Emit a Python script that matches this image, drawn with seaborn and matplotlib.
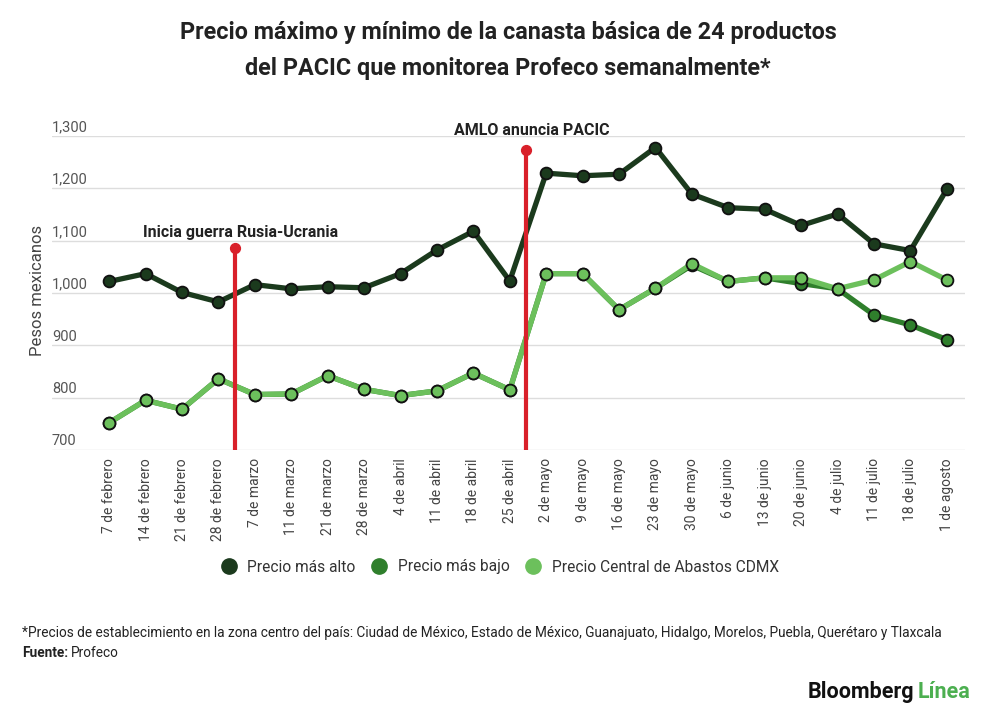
import numpy as np
import pandas as pd
import matplotlib
matplotlib.use("Agg")
import matplotlib.pyplot as plt
import seaborn as sns

dates = ["7 de febrero", "14 de febrero", "21 de febrero", "28 de febrero",
         "7 de marzo", "11 de marzo", "21 de marzo", "28 de marzo",
         "4 de abril", "11 de abril", "18 de abril", "25 de abril",
         "2 de mayo", "9 de mayo", "16 de mayo", "23 de mayo", "30 de mayo",
         "6 de junio", "13 de junio", "20 de junio", "4 de julio",
         "11 de julio", "18 de julio", "1 de agosto"]

precio_alto = [1022, 1037, 1001, 983, 1016, 1008, 1012, 1010,
               1037, 1082, 1118, 1023, 1229, 1224, 1227, 1278, 1189,
               1163, 1160, 1129, 1151, 1094, 1081, 1198]
precio_bajo = [752, 795, 778, 836, 806, 807, 842, 816,
               804, 813, 847, 815, 1037, 1037, 968, 1009, 1053,
               1022, 1029, 1018, 1008, 958, 939, 911]
precio_central = [752, 795, 778, 836, 806, 807, 842, 816,
                  804, 813, 847, 815, 1037, 1037, 968, 1009, 1056,
                  1022, 1029, 1029, 1008, 1025, 1060, 1025]

series_names = ["Precio más alto", "Precio más bajo", "Precio Central de Abastos CDMX"]
series_colors = ["#1b3a1d", "#2f7f2c", "#6cc05c"]

event_labels = ["Inicia guerra Rusia-Ucrania", "AMLO anuncia PACIC"]
event_positions = [3.45, 11.45]
event_tops = [1086, 1273]

yticks = [700, 800, 900, 1000, 1100, 1200, 1300]

sns.set_theme(style="white")
plt.rcParams['font.family'] = ['Roboto', 'DejaVu Sans']

fig = plt.figure(figsize=(10, 7.19), dpi=100)
ax = fig.add_axes([0.052, 1 - 450 / 719, 0.965 - 0.052, (450 - 136) / 719])

x = np.arange(len(dates))
for name, vals, col in zip(series_names, [precio_alto, precio_bajo, precio_central], series_colors):
    df = pd.DataFrame({"x": x, "y": vals})
    sns.lineplot(data=df, x="x", y="y", ax=ax, color=col, linewidth=3.8,
                 marker="o", markersize=8.5, markeredgecolor="#111111",
                 markeredgewidth=1.3, label=name, legend=False, zorder=3)

ax.set_xlim(-1.57, 23.5)
ax.set_ylim(700, 1300)
ax.set_yticks(yticks)
ax.set_yticklabels([])
ax.tick_params(axis="y", length=0)
ax.grid(axis="y", color="#dddddd", linewidth=1)
ax.grid(axis="x", visible=False)
for s in ax.spines.values():
    s.set_visible(False)
ax.set_axisbelow(True)

for t in yticks:
    ax.text(0, t + 3, f"{t:,}", transform=ax.get_yaxis_transform(),
            ha="left", va="bottom", fontsize=10.5, color="#555555")

ax.set_xticks(x)
ax.set_xticklabels(dates, rotation=90, fontsize=10, color="#444444", va="top")
ax.tick_params(axis="x", length=0, pad=6)
ax.set_xlabel("")
ax.set_ylabel("")

fig.text(0.038, 1 - 290 / 719, "Pesos mexicanos", rotation=90, ha="center",
         va="center", fontsize=12, color="#444444")

for lab, pos, top, ty in zip(event_labels, event_positions, event_tops, [1115, 1310]):
    ax.plot([pos, pos], [700, top], color="#d9202a", linewidth=3, zorder=4,
            solid_capstyle="butt")
    ax.scatter([pos], [top], color="#d9202a", s=50, zorder=5)
    ax.text(pos + 0.15, ty, lab, ha="center", va="center", fontsize=11.5,
            fontweight="bold", color="#222222", clip_on=False)

fig.text(0.508, 1 - 33 / 719, "Precio máximo y mínimo de la canasta básica de 24 productos",
         ha="center", va="center", fontsize=16.8, fontweight="bold", color="#222222")
fig.text(0.508, 1 - 68 / 719, "del PACIC que monitorea Profeco semanalmente*",
         ha="center", va="center", fontsize=16.8, fontweight="bold", color="#222222")

handles = [plt.Line2D([], [], marker="o", linestyle="none", markersize=11,
                      markerfacecolor=c, markeredgecolor=c) for c in series_colors]
fig.legend(handles, series_names, loc="center", bbox_to_anchor=(0.496, 1 - 567 / 719),
           ncol=3, frameon=False, fontsize=11.2, handletextpad=0.2, columnspacing=0.5,
           labelcolor="#333333")

fig.text(0.022, 1 - 633 / 719,
         "*Precios de establecimiento en la zona centro del país: Ciudad de México, Estado de México, Guanajuato, Hidalgo, Morelos, Puebla, Querétaro y Tlaxcala",
         ha="left", va="center", fontsize=9.8, color="#222222")
t1 = fig.text(0.022, 1 - 653 / 719, "Fuente:", ha="left", va="center", fontsize=9.8,
              fontweight="bold", color="#222222")
fig.canvas.draw()
bb = t1.get_window_extent()
fig.text(bb.x1 / 1000 + 0.003, 1 - 653 / 719, "Profeco", ha="left", va="center",
         fontsize=9.8, color="#222222")

t2 = fig.text(0.97, 1 - 692 / 719, "Línea", ha="right", va="center", fontsize=15.5,
              fontweight="bold", color="#4caf50")
fig.canvas.draw()
bb2 = t2.get_window_extent()
fig.text(bb2.x0 / 1000 - 0.003, 1 - 692 / 719, "Bloomberg", ha="right", va="center",
         fontsize=15.5, fontweight="bold", color="#111111")

fig.savefig("out.png", dpi=100, facecolor="white")
